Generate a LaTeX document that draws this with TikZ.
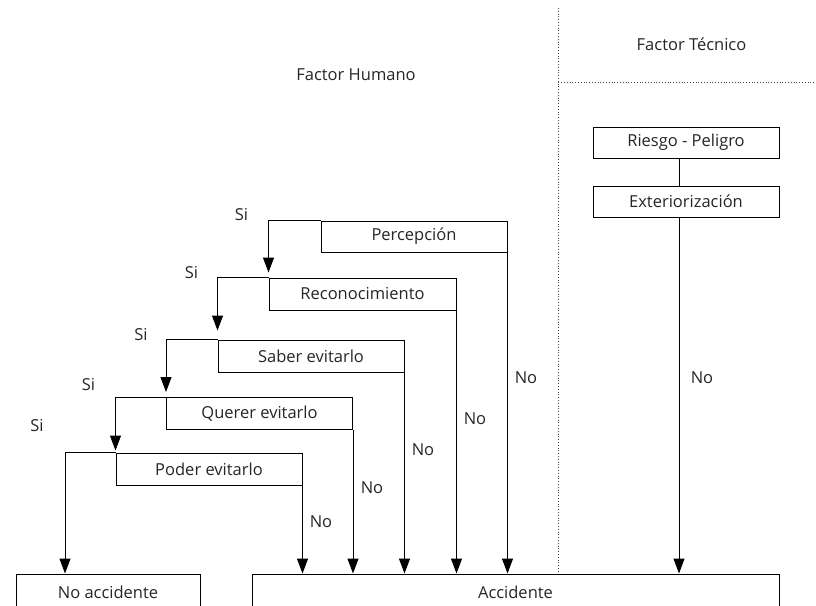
\documentclass[tikz,border=0pt]{standalone}
\usepackage{fontspec}
\setmainfont{Open Sans}
\usetikzlibrary{arrows.meta}
\definecolor{txt}{HTML}{262626}
\tikzset{
  stepbox/.style={draw=black, line width=1pt, rectangle, inner sep=0pt, minimum width=186pt, minimum height=31pt, text=txt, font=\fontsize{16.5}{19}\selectfont},
  lbl/.style={text=txt, inner sep=0pt, font=\fontsize{16.5}{19}\selectfont},
  conn/.style={draw=black, line width=1pt},
  arr/.style={conn, -{Triangle[width=11pt,length=15pt]}},
  sep/.style={draw=black!75, line width=0.8pt, dotted},
}
\begin{document}
\begin{tikzpicture}[x=1pt,y=-1pt]
\useasboundingbox (0,0) rectangle (816,605);
\clip (0,0) rectangle (816,605);
\fill[white] (0,0) rectangle (816,605);

% headers
\node[lbl] (fh) at (356,75) {Factor Humano};
\node[lbl] (ft) at (691.5,44) {Factor Técnico};

% boxes
\node[stepbox] (perc) at (414,236.5) {Percepción};
\node[stepbox, minimum width=187pt, minimum height=32pt] (reco) at (362.5,294) {Reconocimiento};
\node[stepbox, minimum height=32pt] (saber) at (311,356) {Saber evitarlo};
\node[stepbox, minimum height=32pt] (querer) at (259.5,413.5) {Querer evitarlo};
\node[stepbox, minimum height=32pt] (poder) at (209,469) {Poder evitarlo};
\node[stepbox] (riesgo) at (686,142.5) {Riesgo - Peligro};
\node[stepbox] (exter) at (686,201.5) {Exteriorización};
\node[stepbox, minimum width=184pt, minimum height=36pt] (noacc) at (108,592) {No accidente};
\node[stepbox, minimum width=527pt, minimum height=36pt] (acc) at (515.5,592) {Accidente};

% separators
\coordinate (vt) at (558.3,8);
\coordinate (hr) at (816,82.7);
\draw[sep] (vt) -- (vt |- acc.north);
\draw[sep] (vt |- hr) -- (hr);

% Si branches
\draw[arr, shorten >=5pt] (perc.north west) -| (reco.north west);
\draw[arr, shorten >=9pt] (reco.north west) -| (saber.north west);
\draw[arr, shorten >=5pt] (saber.north west) -| (querer.north west);
\draw[arr, shorten >=2pt] (querer.north west) -| (poder.north west);
\coordinate (s5) at (65,469);
\draw[arr] (poder.north west) -| (s5 |- noacc.north);

% No branches
\draw[arr] (perc.south east) -- (perc.south east |- acc.north);
\draw[arr] (reco.south east) -- (reco.south east |- acc.north);
\draw[arr] (saber.south east) -- (saber.south east |- acc.north);
\draw[arr] (querer.south east) -- (querer.south east |- acc.north);
\draw[arr] (poder.south east) -- (poder.south east |- acc.north);

% technical chain
\coordinate (tx) at (679,0);
\draw[conn] (riesgo.south -| tx) -- (exter.north -| tx);
\draw[arr] (exter.south -| tx) -- (acc.north -| tx);

% labels
\node[lbl] (si1) at (241.5,215) {Si};
\node[lbl] (si2) at (191.5,273) {Si};
\node[lbl] (si3) at (141,335) {Si};
\node[lbl] (si4) at (88.5,385) {Si};
\node[lbl] (si5) at (37,426) {Si};
\node[lbl] (no1) at (526,378) {No};
\node[lbl] (no2) at (475,419) {No};
\node[lbl] (no3) at (423,450) {No};
\node[lbl] (no4) at (372,488) {No};
\node[lbl] (no5) at (321,522) {No};
\node[lbl] (no6) at (702,378) {No};
\end{tikzpicture}
\end{document}
